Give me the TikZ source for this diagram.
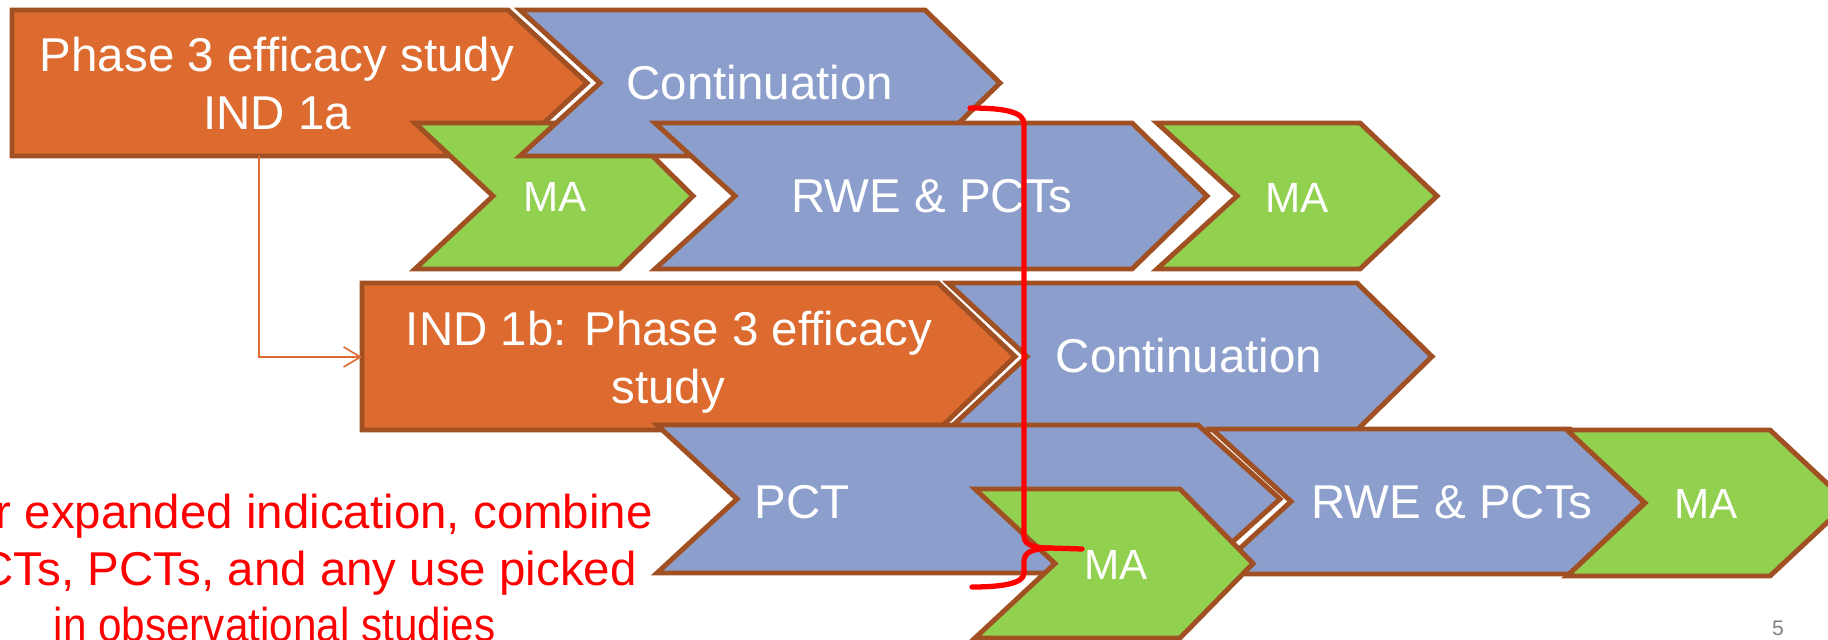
\documentclass[tikz,border=0pt]{standalone}
\usepackage{fontspec}
\setmainfont{Liberation Sans}
\usetikzlibrary{arrows.meta}
\definecolor{orng}{RGB}{221,107,48}
\definecolor{brn}{RGB}{160,80,34}
\definecolor{blu}{RGB}{140,158,203}
\definecolor{grn}{RGB}{146,208,80}
\definecolor{pggray}{RGB}{128,128,128}
% #1 style, #2 x left, #3 x notch, #4 x right, #5 x tip, #6 y top, #7 y bottom
\newcommand{\chevpoly}[7]{%
  \path[#1] (#2,#6) -- (#4,#6) -- (#5,{(#6+#7)/2}) -- (#4,#7) -- (#2,#7) -- (#3,{(#6+#7)/2}) -- cycle;}
\tikzset{
  shp/.style={draw=brn, line width=1.4pt, line join=miter},
  orangeshp/.style={shp, fill=orng},
  blueshp/.style={shp, fill=blu},
  greenshp/.style={shp, fill=grn},
  lbl/.style={anchor=base, text=white, inner sep=0pt, font=\fontsize{13.5}{16}\selectfont},
  malbl/.style={lbl, font=\fontsize{12}{14}\selectfont},
  redtxt/.style={anchor=base west, text=red, inner sep=0pt, font=\fontsize{13.5}{16}\selectfont},
  conn/.style={draw=orng, line width=0.45pt, -{Straight Barb[length=4.8pt,width=5.7pt]}},
  brace/.style={draw=red, line width=1.5pt, line cap=round, line join=round}
}
\begin{document}
\begin{tikzpicture}[x=0.01cm, y=-0.01cm]
\useasboundingbox (0,0) rectangle (1828,640);
\clip (0,0) rectangle (1828,640);
\fill[white] (0,0) rectangle (1828,640);

% row 1 and 2
\chevpoly{orangeshp}{12}{12}{508}{587}{10}{156}
\chevpoly{greenshp}{415}{493}{619}{693}{123}{269}
\chevpoly{blueshp}{520}{600}{925}{1000}{10}{156}
\chevpoly{blueshp}{655}{735}{1132}{1207}{123}{269}
\chevpoly{greenshp}{1157}{1237}{1360}{1437}{123}{269}
% row 3 and 4
\chevpoly{orangeshp}{362}{362}{938}{1015}{283}{430}
\chevpoly{blueshp}{948}{1027}{1357}{1432}{283}{430}
\chevpoly{blueshp}{657}{737}{1198}{1280}{425}{573}
\chevpoly{blueshp}{1212}{1291}{1570}{1645}{429}{574}
\chevpoly{greenshp}{1567}{1645}{1770}{1848}{430}{576}
\chevpoly{greenshp}{975}{1055}{1180}{1253}{489}{638}

% labels
\node[lbl] (ph3a) at (277,72) {Phase 3 efficacy study};
\node[lbl] (ph3b) at (277,130) {IND 1a};
\node[lbl] (cont1) at (760,100) {Continuation};
\node[malbl] (ma1) at (555,212) {MA};
\node[lbl] (rwe1) at (932,213) {RWE \& PCTs};
\node[malbl] (ma2) at (1297,213) {MA};
\node[lbl] (ind1ba) at (669,346) {IND 1b: Phase 3 efficacy};
\node[lbl] (ind1bb) at (668,403) {study};
\node[lbl] (cont2) at (1189,373) {Continuation};
\node[lbl] (pct) at (802,518) {PCT};
\node[lbl] (rwe2) at (1452,518) {RWE \& PCTs};
\node[malbl] (ma3) at (1706,518) {MA};
\node[malbl] (ma4) at (1116,579) {MA};

% connector
\coordinate (p3out) at (259,156);
\coordinate (ind1bin) at (362,357);
\draw[conn] (p3out) |- (ind1bin);

% red brace
\draw[brace] (970,108) .. controls (1005,108) and (1024,112) .. (1024,124) -- (1024,536)
  .. controls (1024,545) and (1034,548) .. (1050,548) -- (1082,549);
\draw[brace] (1050,548) .. controls (1030,549) and (1024,553) .. (1024,562) -- (1024,573)
  .. controls (1024,584) and (1000,587) .. (972,587);

% red text
\node[redtxt] (t1) at (-5,528) {r expanded indication, combine};
\node[redtxt] (t2) at (-21,585) {CTs, PCTs, and any use picked};
\node[redtxt] (t3) at (53,641) {\scalebox{0.89}[1]{in observational studies}};

% page number
\node[anchor=base, text=pggray, inner sep=0pt, font=\fontsize{6}{7}\selectfont] (pg) at (1778,635) {5};
\end{tikzpicture}
\end{document}
